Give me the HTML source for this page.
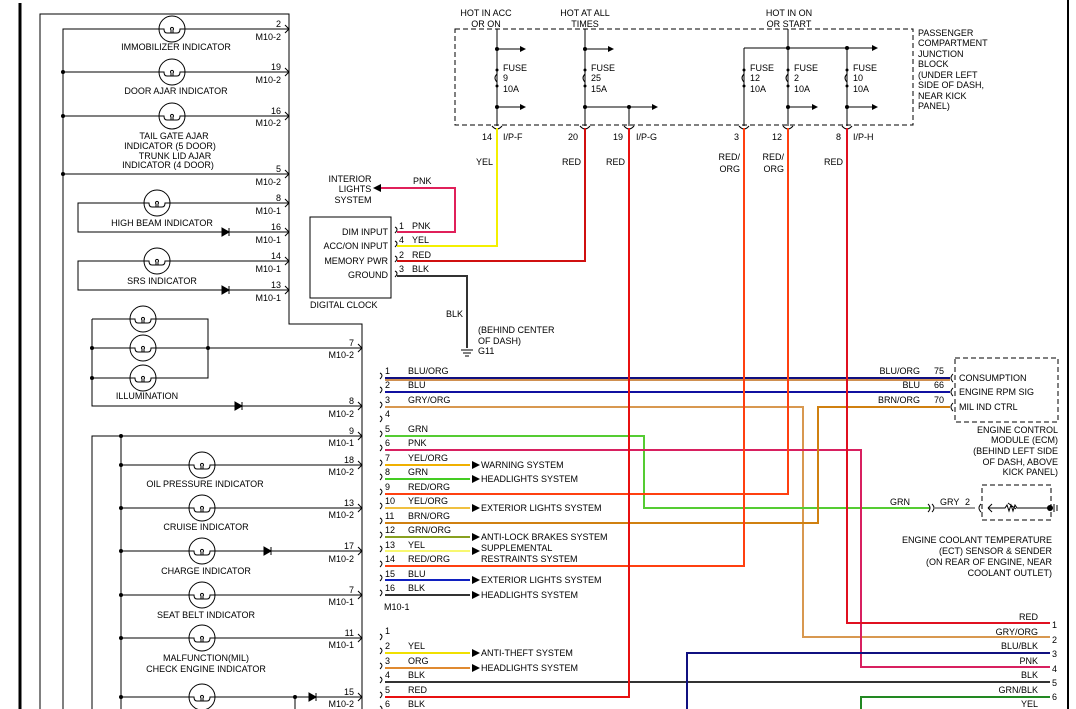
<!DOCTYPE html>
<html><head><meta charset="utf-8"><style>
html,body{margin:0;padding:0;background:#fff}
svg{display:block}
text{font-family:"Liberation Sans",sans-serif;font-size:9px;fill:#000}
.r{text-anchor:end}.m{text-anchor:middle}
</style></head><body>
<svg width="1076" height="709" viewBox="0 0 1076 709" xmlns="http://www.w3.org/2000/svg">
<defs>
<g id="b"><circle r="13" fill="#fff" stroke="#000" stroke-width="1"/><path d="M-13 0H-8Q-8 4 -5 4H5Q8 4 8 0H13M-1 4V1a1.5 1.5 0 1 1 2 0V4" fill="none" stroke="#000" stroke-width="1"/></g>
<path id="d" d="M-4 -4L3 0L-4 4ZM3 -4V4" fill="#000" stroke="#000" stroke-width="1"/>
<path id="c" d="M-4 -4L0 0L-4 4" fill="none" stroke="#000" stroke-width="1"/>
<path id="p" d="M0 -5q4 2 0 6" fill="none" stroke="#000" stroke-width="1"/>
<path id="a" d="M-8 -4L0 0L-8 4Z" fill="#000"/>
</defs>
<g stroke="#000" stroke-width="1" fill="none">
<path d="M20 3V709" stroke-width="3"/>
<path d="M40 709V14H289V324H362V709"/>
<path d="M63 709V29H289"/>
<path d="M63 72H289M63 116H289M63 174H289"/>
<path d="M289 203H78V232H289M289 261H78V290H289"/>
<path d="M92 319H208V378H92V319M92 348H362M92 378V406H362"/>
<path d="M362 436H92V709M121 436V709"/>
<path d="M121 465H362M121 508H362M121 551H362M121 595H362M121 638H362M121 697H362M295 697V709"/>
</g>
<g fill="#000">
<circle cx="63" cy="72" r="2"/><circle cx="63" cy="116" r="2"/><circle cx="63" cy="174" r="2"/>
<circle cx="92" cy="348" r="2"/><circle cx="208" cy="348" r="2"/><circle cx="92" cy="378" r="2"/>
<circle cx="121" cy="436" r="2"/><circle cx="121" cy="465" r="2"/><circle cx="121" cy="508" r="2"/><circle cx="121" cy="551" r="2"/><circle cx="121" cy="595" r="2"/><circle cx="121" cy="638" r="2"/><circle cx="121" cy="697" r="2"/><circle cx="295" cy="697" r="2"/>
</g>
<use href="#b" x="172" y="29"/><use href="#b" x="172" y="72"/><use href="#b" x="172" y="116"/>
<use href="#b" x="157" y="203"/><use href="#b" x="157" y="261"/>
<use href="#b" x="143" y="319"/><use href="#b" x="143" y="348"/><use href="#b" x="143" y="378"/>
<use href="#b" x="202" y="465"/><use href="#b" x="202" y="508"/><use href="#b" x="202" y="551"/><use href="#b" x="202" y="595"/><use href="#b" x="202" y="638"/><use href="#b" x="202" y="697"/>
<use href="#d" x="226" y="232"/><use href="#d" x="226" y="290"/><use href="#d" x="239" y="406"/><use href="#d" x="268" y="551"/><use href="#d" x="313" y="697"/>
<g>
<use href="#c" x="289" y="29"/><use href="#c" x="289" y="72"/><use href="#c" x="289" y="116"/><use href="#c" x="289" y="174"/><use href="#c" x="289" y="203"/><use href="#c" x="289" y="232"/><use href="#c" x="289" y="261"/><use href="#c" x="289" y="290"/>
<use href="#c" x="362" y="348"/><use href="#c" x="362" y="406"/><use href="#c" x="362" y="436"/><use href="#c" x="362" y="465"/><use href="#c" x="362" y="508"/><use href="#c" x="362" y="551"/><use href="#c" x="362" y="595"/><use href="#c" x="362" y="638"/><use href="#c" x="362" y="697"/>
</g>
<text x="176" y="50" class="m">IMMOBILIZER INDICATOR</text>
<text x="176" y="94" class="m">DOOR AJAR INDICATOR</text>
<text x="174" y="139" class="m">TAIL GATE AJAR</text>
<text x="170" y="149" class="m">INDICATOR    (5 DOOR)</text>
<text x="175" y="159" class="m">TRUNK LID AJAR</text>
<text x="168" y="168" class="m">INDICATOR    (4 DOOR)</text>
<text x="162" y="226" class="m">HIGH BEAM INDICATOR</text>
<text x="162" y="284" class="m">SRS INDICATOR</text>
<text x="147" y="399" class="m">ILLUMINATION</text>
<text x="205" y="487" class="m">OIL PRESSURE INDICATOR</text>
<text x="206" y="530" class="m">CRUISE INDICATOR</text>
<text x="206" y="574" class="m">CHARGE INDICATOR</text>
<text x="206" y="618" class="m">SEAT BELT INDICATOR</text>
<text x="206" y="661" class="m">MALFUNCTION(MIL)</text>
<text x="206" y="672" class="m">CHECK ENGINE INDICATOR</text>
<g class="r">
<text x="281" y="27" class="r">2</text><text x="281" y="40" class="r">M10-2</text>
<text x="281" y="70" class="r">19</text><text x="281" y="83" class="r">M10-2</text>
<text x="281" y="114" class="r">16</text><text x="281" y="126" class="r">M10-2</text>
<text x="281" y="172" class="r">5</text><text x="281" y="185" class="r">M10-2</text>
<text x="281" y="201" class="r">8</text><text x="281" y="214" class="r">M10-1</text>
<text x="281" y="230" class="r">16</text><text x="281" y="243" class="r">M10-1</text>
<text x="281" y="259" class="r">14</text><text x="281" y="272" class="r">M10-1</text>
<text x="281" y="288" class="r">13</text><text x="281" y="301" class="r">M10-1</text>
<text x="354" y="346" class="r">7</text><text x="354" y="358" class="r">M10-2</text>
<text x="354" y="404" class="r">8</text><text x="354" y="417" class="r">M10-2</text>
<text x="354" y="434" class="r">9</text><text x="354" y="446" class="r">M10-1</text>
<text x="354" y="463" class="r">18</text><text x="354" y="475" class="r">M10-2</text>
<text x="354" y="506" class="r">13</text><text x="354" y="518" class="r">M10-2</text>
<text x="354" y="549" class="r">17</text><text x="354" y="562" class="r">M10-2</text>
<text x="354" y="593" class="r">7</text><text x="354" y="605" class="r">M10-1</text>
<text x="354" y="636" class="r">11</text><text x="354" y="648" class="r">M10-1</text>
<text x="354" y="695" class="r">15</text><text x="354" y="707" class="r">M10-2</text>
</g>
<rect x="455" y="29" width="458" height="96" fill="none" stroke="#000" stroke-dasharray="5,3"/>
<g stroke="#000" fill="none">
<path d="M497 29V126M585 29V126M629 107V126M744 48V126M788 29V126M847 48V126"/>
<path d="M497 49H520M497 107H520M585 49H608M585 107H652M744 48H872M788 107H812M847 107H872"/>
</g>
<g fill="#fff" stroke="#000"><path d="M497 74q-4 4 0 8M585 74q-4 4 0 8M744 74q-4 4 0 8M788 74q-4 4 0 8M847 74q-4 4 0 8" fill="none"/></g>
<g fill="#000">
<circle cx="497" cy="49" r="2"/><circle cx="497" cy="107" r="2"/><circle cx="585" cy="49" r="2"/><circle cx="585" cy="107" r="2"/><circle cx="629" cy="107" r="2"/>
<circle cx="788" cy="48" r="2"/><circle cx="847" cy="48" r="2"/><circle cx="788" cy="107" r="2"/><circle cx="847" cy="107" r="2"/>
<circle cx="497" cy="70" r="1.5"/><circle cx="497" cy="86" r="1.5"/><circle cx="585" cy="70" r="1.5"/><circle cx="585" cy="86" r="1.5"/><circle cx="744" cy="70" r="1.5"/><circle cx="744" cy="86" r="1.5"/><circle cx="788" cy="70" r="1.5"/><circle cx="788" cy="86" r="1.5"/><circle cx="847" cy="70" r="1.5"/><circle cx="847" cy="86" r="1.5"/>
<path d="M526 49l-6-3v6zM526 107l-6-3v6zM614 49l-6-3v6zM658 107l-6-3v6zM878 48l-6-3v6zM818 107l-6-3v6zM878 107l-6-3v6z"/>
</g>
<g stroke="#000" fill="none"><path d="M492 126q5 6 10 0M580 126q5 6 10 0M624 126q5 6 10 0M739 126q5 6 10 0M783 126q5 6 10 0M842 126q5 6 10 0"/></g>
<text x="486" y="16" class="m">HOT IN ACC</text><text x="486" y="27" class="m">OR ON</text>
<text x="585" y="16" class="m">HOT AT ALL</text><text x="585" y="27" class="m">TIMES</text>
<text x="789" y="16" class="m">HOT IN ON</text><text x="789" y="27" class="m">OR START</text>
<text x="503" y="71">FUSE</text><text x="503" y="81">9</text><text x="503" y="92">10A</text>
<text x="591" y="71">FUSE</text><text x="591" y="81">25</text><text x="591" y="92">15A</text>
<text x="750" y="71">FUSE</text><text x="750" y="81">12</text><text x="750" y="92">10A</text>
<text x="794" y="71">FUSE</text><text x="794" y="81">2</text><text x="794" y="92">10A</text>
<text x="853" y="71">FUSE</text><text x="853" y="81">10</text><text x="853" y="92">10A</text>
<text x="918" y="36">PASSENGER</text><text x="918" y="46">COMPARTMENT</text><text x="918" y="57">JUNCTION</text><text x="918" y="67">BLOCK</text><text x="918" y="78">(UNDER LEFT</text><text x="918" y="88">SIDE OF DASH,</text><text x="918" y="99">NEAR KICK</text><text x="918" y="109">PANEL)</text>
<text x="492" y="140" class="r">14</text><text x="503" y="140">I/P-F</text>
<text x="578" y="140" class="r">20</text><text x="623" y="140" class="r">19</text><text x="636" y="140">I/P-G</text>
<text x="739" y="140" class="r">3</text><text x="782" y="140" class="r">12</text><text x="841" y="140" class="r">8</text><text x="853" y="140">I/P-H</text>
<text x="493" y="165" class="r">YEL</text><text x="581" y="165" class="r">RED</text><text x="625" y="165" class="r">RED</text>
<text x="740" y="160" class="r">RED/</text><text x="740" y="172" class="r">ORG</text>
<text x="784" y="160" class="r">RED/</text><text x="784" y="172" class="r">ORG</text>
<text x="843" y="165" class="r">RED</text>
<path d="M1068 0V709" stroke="#000" stroke-width="2"/>
<g fill="none" stroke-width="2">
<path d="M497 128V246H397" stroke="#f4f000"/>
<path d="M585 128V261H397" stroke="#d01010"/>
<path d="M397 232H455V188H378" stroke="#e0205a"/>
<path d="M397 276H467V348" stroke="#333"/>
<path d="M385 380H950" stroke="#d09050"/>
<path d="M385 378H950" stroke="#101080"/>
<path d="M385 392H950" stroke="#1010a0"/>
<path d="M385 407H803V637H1050" stroke="#d89850"/>
<path d="M385 436H644V508H930" stroke="#55cc33"/>
<path d="M385 450H861V667H1050" stroke="#d82060"/>
<path d="M385 465H470" stroke="#f0b000"/>
<path d="M385 479H470" stroke="#44cc22"/>
<path d="M385 508H470" stroke="#f0c040"/>
<path d="M385 523H818V407H950" stroke="#d08010"/>
<path d="M385 537H470" stroke="#88a020"/>
<path d="M385 551H470" stroke="#f8f870"/>
<path d="M385 580H470" stroke="#1020c0"/>
<path d="M385 595H470" stroke="#333"/>
<path d="M385 653H470" stroke="#f0e000"/>
<path d="M385 668H470" stroke="#e08a30"/>
<path d="M385 682H1050" stroke="#333"/>
<path d="M687 709V653H1050" stroke="#101080"/>
<path d="M861 709V697H1050" stroke="#228822"/>
<path d="M935 508H975" stroke="#999"/>
<path d="M744 128V566H385" stroke="#ff4010"/>
<path d="M788 128V494H385" stroke="#ff4010"/>
<path d="M847 128V623H1050" stroke="#e01020"/>
<path d="M629 128V697H385" stroke="#e81010"/>
</g>
<g fill="#000">
<use href="#a" x="480" y="465"/><use href="#a" x="480" y="479"/><use href="#a" x="480" y="508"/><use href="#a" x="480" y="537"/><use href="#a" x="480" y="551"/><use href="#a" x="480" y="580"/><use href="#a" x="480" y="595"/><use href="#a" x="480" y="653"/><use href="#a" x="480" y="668"/>
<path d="M373 188l8-4v8z"/>
</g>
<text x="481" y="468">WARNING SYSTEM</text><text x="481" y="482">HEADLIGHTS SYSTEM</text>
<text x="481" y="511">EXTERIOR LIGHTS SYSTEM</text><text x="481" y="540">ANTI-LOCK BRAKES SYSTEM</text>
<text x="481" y="551">SUPPLEMENTAL</text><text x="481" y="562">RESTRAINTS SYSTEM</text>
<text x="481" y="583">EXTERIOR LIGHTS SYSTEM</text><text x="481" y="598">HEADLIGHTS SYSTEM</text>
<text x="481" y="656">ANTI-THEFT SYSTEM</text><text x="481" y="671">HEADLIGHTS SYSTEM</text>
<g>
<use href="#p" x="380" y="378"/><use href="#p" x="380" y="392"/><use href="#p" x="380" y="407"/><use href="#p" x="380" y="421"/><use href="#p" x="380" y="436"/><use href="#p" x="380" y="450"/><use href="#p" x="380" y="465"/><use href="#p" x="380" y="479"/><use href="#p" x="380" y="494"/><use href="#p" x="380" y="508"/><use href="#p" x="380" y="523"/><use href="#p" x="380" y="537"/><use href="#p" x="380" y="551"/><use href="#p" x="380" y="566"/><use href="#p" x="380" y="580"/><use href="#p" x="380" y="595"/>
<use href="#p" x="380" y="639"/><use href="#p" x="380" y="653"/><use href="#p" x="380" y="668"/><use href="#p" x="380" y="682"/><use href="#p" x="380" y="697"/><use href="#p" x="380" y="711"/>
<use href="#p" x="395" y="232"/><use href="#p" x="395" y="246"/><use href="#p" x="395" y="261"/><use href="#p" x="395" y="276"/>
</g>
<g>
<text x="385" y="374">1</text><text x="385" y="388">2</text><text x="385" y="403">3</text><text x="385" y="417">4</text><text x="385" y="432">5</text><text x="385" y="446">6</text><text x="385" y="461">7</text><text x="385" y="475">8</text><text x="385" y="490">9</text><text x="385" y="504">10</text><text x="385" y="519">11</text><text x="385" y="533">12</text><text x="385" y="548">13</text><text x="385" y="562">14</text><text x="385" y="577">15</text><text x="385" y="591">16</text>
<text x="384" y="610">M10-1</text>
<text x="385" y="634">1</text><text x="385" y="649">2</text><text x="385" y="664">3</text><text x="385" y="678">4</text><text x="385" y="693">5</text><text x="385" y="707">6</text>
<text x="408" y="374">BLU/ORG</text><text x="408" y="388">BLU</text><text x="408" y="403">GRY/ORG</text><text x="408" y="432">GRN</text><text x="408" y="446">PNK</text><text x="408" y="461">YEL/ORG</text><text x="408" y="475">GRN</text><text x="408" y="490">RED/ORG</text><text x="408" y="504">YEL/ORG</text><text x="408" y="519">BRN/ORG</text><text x="408" y="533">GRN/ORG</text><text x="408" y="548">YEL</text><text x="408" y="562">RED/ORG</text><text x="408" y="577">BLU</text><text x="408" y="591">BLK</text>
<text x="408" y="649">YEL</text><text x="408" y="664">ORG</text><text x="408" y="678">BLK</text><text x="408" y="693">RED</text><text x="408" y="707">BLK</text>
</g>
<rect x="310" y="217" width="81" height="81" fill="none" stroke="#000"/>
<text x="388" y="235" class="r">DIM INPUT</text><text x="388" y="249" class="r">ACC/ON INPUT</text><text x="388" y="264" class="r">MEMORY PWR</text><text x="388" y="278" class="r">GROUND</text>
<text x="310" y="308">DIGITAL CLOCK</text>
<text x="399" y="229">1</text><text x="399" y="243">4</text><text x="399" y="258">2</text><text x="399" y="272">3</text>
<text x="412" y="229">PNK</text><text x="412" y="243">YEL</text><text x="412" y="258">RED</text><text x="412" y="272">BLK</text>
<text x="350" y="182" class="m">INTERIOR</text><text x="355" y="192" class="m">LIGHTS</text><text x="353" y="203" class="m">SYSTEM</text>
<text x="413" y="184">PNK</text>
<text x="463" y="317" class="r">BLK</text>
<text x="478" y="333">(BEHIND CENTER</text><text x="478" y="344">OF DASH)</text><text x="478" y="354">G11</text>
<path d="M461 350H473M463 353H471M465 356H469" stroke="#000"/>
<rect x="955" y="358" width="103" height="64" fill="none" stroke="#000" stroke-dasharray="5,3"/>
<g stroke="#000" fill="none"><path d="M953 374q-4 4 0 8M953 388q-4 4 0 8M953 403q-4 4 0 8"/></g>
<text x="959" y="381">CONSUMPTION</text><text x="959" y="395">ENGINE RPM SIG</text><text x="959" y="410">MIL IND CTRL</text>
<text x="920" y="374" class="r">BLU/ORG</text><text x="920" y="388" class="r">BLU</text><text x="920" y="403" class="r">BRN/ORG</text>
<text x="944" y="374" class="r">75</text><text x="944" y="388" class="r">66</text><text x="944" y="403" class="r">70</text>
<text x="1058" y="433" class="r">ENGINE CONTROL</text><text x="1058" y="443" class="r">MODULE (ECM)</text><text x="1058" y="454" class="r">(BEHIND LEFT SIDE</text><text x="1058" y="465" class="r">OF DASH, ABOVE</text><text x="1058" y="475" class="r">KICK PANEL)</text>
<rect x="982" y="485" width="69" height="35" fill="none" stroke="#000" stroke-dasharray="5,3"/>
<g stroke="#000" fill="none"><path d="M928 504q4 4 0 8M932 504q4 4 0 8M981 504q-4 4 0 8"/><path d="M988 508l4-4M988 508l4 4M988 508H1005l2-3 2 6 2-6 2 6 2-6 2 3H1050M1008 503l8 6"/><path d="M1054 504v8M1057 505v6"/></g>
<circle cx="1050" cy="508" r="3" fill="#000"/>
<text x="910" y="505" class="r">GRN</text><text x="940" y="505">GRY</text><text x="970" y="505" class="r">2</text>
<text x="1052" y="543" class="r">ENGINE COOLANT TEMPERATURE</text><text x="1052" y="554" class="r">(ECT) SENSOR &amp; SENDER</text><text x="1052" y="565" class="r">(ON REAR OF ENGINE, NEAR</text><text x="1052" y="576" class="r">COOLANT OUTLET)</text>
<text x="1038" y="620" class="r">RED</text><text x="1038" y="635" class="r">GRY/ORG</text><text x="1038" y="649" class="r">BLU/BLK</text><text x="1038" y="664" class="r">PNK</text><text x="1038" y="678" class="r">BLK</text><text x="1038" y="693" class="r">GRN/BLK</text><text x="1038" y="707" class="r">YEL</text>
<text x="1052" y="628">1</text><text x="1052" y="643">2</text><text x="1052" y="657">3</text><text x="1052" y="672">4</text><text x="1052" y="686">5</text><text x="1052" y="700">6</text>
</svg>
</body></html>
